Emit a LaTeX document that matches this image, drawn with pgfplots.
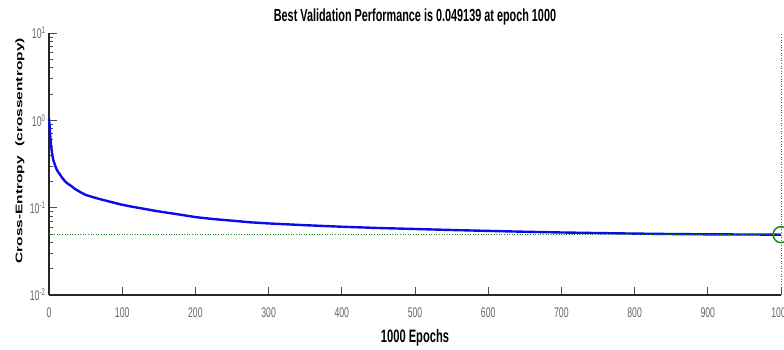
\documentclass[border=0pt]{standalone}
\usepackage{pgfplots}
\pgfplotsset{compat=1.18}
\usepackage{fontspec}
\setmainfont{Liberation Sans}[FakeStretch=0.62]
\newfontfamily\ylabfont{Liberation Sans}
\usepackage{graphicx}
\definecolor{mlblue}{RGB}{10,10,235}
\definecolor{mlgreen}{RGB}{20,140,30}
\begin{document}
\begin{tikzpicture}
\begin{axis}[
  at={(0,0)}, anchor=south west,
  scale only axis, width=732pt, height=262pt,
  ymode=log, xmin=0, xmax=1000, ymin=0.01, ymax=10,
  axis x line*=bottom, axis y line*=left,
  axis line style={black!85, line width=1.2pt, -},
  xtick={0,100,...,1000},
  ytick={0.01,0.1,1,10},
  yticklabels={10\textsuperscript{-2},10\textsuperscript{-1},10\textsuperscript{0},10\textsuperscript{1}},
  /pgf/number format/assume math mode=true,
  /pgf/number format/1000 sep={},
  ticklabel style={font=\fontsize{14}{14}\selectfont, text=black!60},
  xticklabel style={yshift=-9pt},
  tick align=inside,
  major tick length=8pt, minor tick length=4pt,
  tick style={black!70, line width=0.8pt},
  clip=false,
  title={Best Validation Performance is 0.049139 at epoch 1000},
  title style={font=\fontsize{17.5}{18}\bfseries\selectfont, anchor=base, at={(0.5,1)}, yshift=5pt},
  xlabel={1000 Epochs},
  xlabel style={font=\fontsize{18}{18}\bfseries\selectfont, anchor=base, at={(0.5,0)}, yshift=-47pt},
]
\addplot[mlblue, line width=2.4pt] coordinates {
(0,1.05) (1,0.82) (2,0.62) (3,0.5) (4,0.43) (5,0.38) (6,0.35) (8,0.31) (10,0.28) (12,0.26) (15,0.24) (18,0.22) (22,0.2) (25,0.19) (30,0.178) (35,0.165) (42,0.152) (50,0.14) (60,0.132) (70,0.125) (85,0.116) (100,0.108) (115,0.102) (130,0.097) (145,0.092) (160,0.088) (180,0.083) (200,0.078) (225,0.074) (250,0.071) (275,0.068) (300,0.066) (350,0.063) (400,0.0605) (450,0.0585) (500,0.057) (550,0.0555) (600,0.0542) (650,0.053) (700,0.052) (750,0.0512) (800,0.0505) (850,0.0499) (900,0.0495) (950,0.0493) (1000,0.049139)
};
\addplot[mlgreen, dotted, line width=0.6pt] coordinates {(0,0.049139) (1000,0.049139)};
\addplot[mlgreen, dotted, line width=0.6pt] coordinates {(1000,0.01) (1000,10)};
\addplot[only marks, mark=o, mark size=8pt, mlgreen, line width=1.5pt] coordinates {(1000,0.049139)};
\node[rotate=90, anchor=center, inner sep=0pt] at (axis description cs:-0.0396,0.55) {\scalebox{1}[0.62]{\ylabfont\fontsize{15.5}{16}\bfseries\selectfont Cross-Entropy\hspace{0.6em}(crossentropy)}};
\end{axis}
\pgfresetboundingbox
\path[use as bounding box] (-49pt,-54pt) rectangle (735pt,295pt);
\end{tikzpicture}
\end{document}
